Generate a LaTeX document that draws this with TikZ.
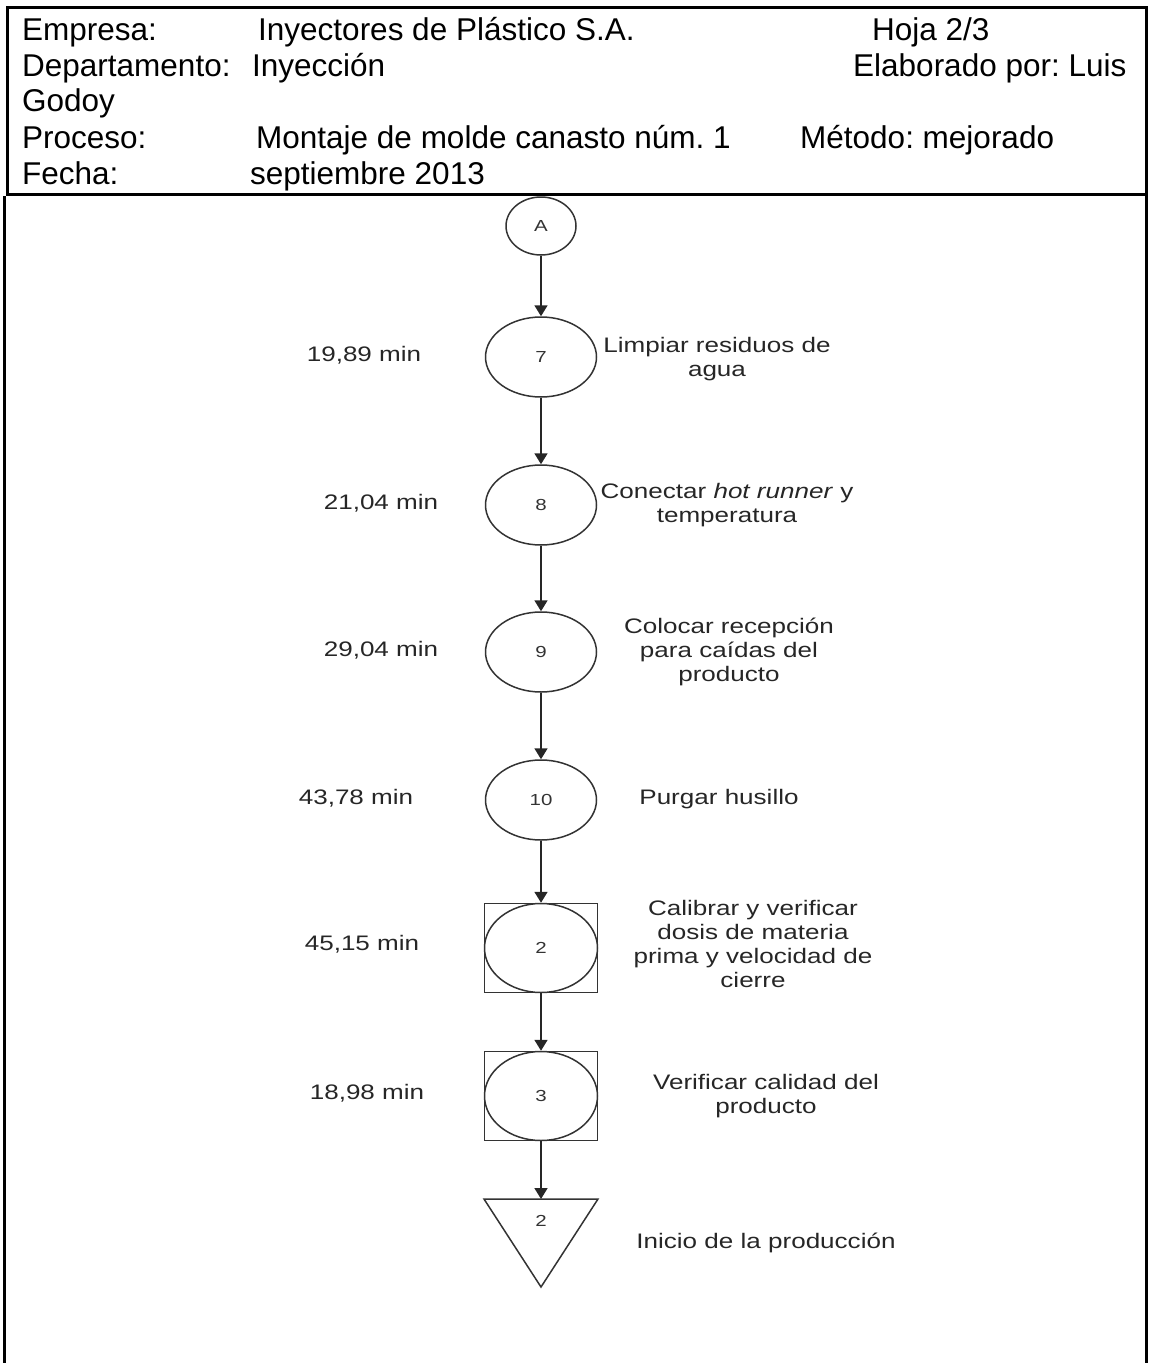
\documentclass[tikz,border=0pt]{standalone}
\usepackage{fontspec}
\setmainfont{Liberation Sans}
\usetikzlibrary{arrows.meta,shapes.geometric}
\newcommand{\dtxt}[1]{\scalebox{1.24}[1]{\fontsize{21}{24}\selectfont\begin{tabular}{@{}c@{}}#1\end{tabular}}}
\newcommand{\ntxt}[1]{\scalebox{1.28}[1]{\fontsize{16}{18}\selectfont #1}}
\frenchspacing
\begin{document}
\begin{tikzpicture}[x=1pt,y=-1pt,
  hdr/.style={anchor=base west,inner sep=0pt,font=\fontsize{31.5}{36}\selectfont},
  oval/.style={draw=black!80,line width=1.5pt,ellipse,inner sep=0pt,minimum width=111pt,minimum height=80pt,text=black!80},
  insp/.style={draw=black!80,line width=1.5pt,rectangle,inner sep=0pt,minimum width=113pt,minimum height=89pt},
  desc/.style={inner sep=0pt,text=black!85},
  flow/.style={draw=black!85,line width=1.8pt,-{Triangle[width=13pt,length=11pt]}},
  frame/.style={draw=black,line width=3pt}
]
\useasboundingbox (0,0) rectangle (1149,1363);
% header
\draw[frame] (7,7) rectangle (1146,194);
\draw[frame] (4.5,196) -- (4.5,1363);
\draw[frame] (1146,196) -- (1146,1363);
\node[hdr] (h1a) at (22,40) {Empresa:};
\node[hdr] (h1b) at (258,40) {Inyectores de Plástico S.A.};
\node[hdr] (h1c) at (872,40) {Hoja 2/3};
\node[hdr] (h2a) at (22,76) {Departamento:};
\node[hdr] (h2b) at (252,76) {Inyección};
\node[hdr] (h2c) at (853,76) {Elaborado por: Luis};
\node[hdr] (h3a) at (22,111) {Godoy};
\node[hdr] (h4a) at (22,148) {Proceso:};
\node[hdr] (h4b) at (256,148) {Montaje de molde canasto núm. 1};
\node[hdr] (h4c) at (800,148) {Método: mejorado};
\node[hdr] (h5a) at (22,184) {Fecha:};
\node[hdr] (h5b) at (250,184) {septiembre 2013};
% flow nodes
\node[oval,minimum width=70pt,minimum height=58pt] (A) at (541,226) {\ntxt{A}};
\node[oval] (o7) at (541,357) {\ntxt{7}};
\node[oval] (o8) at (541,505) {\ntxt{8}};
\node[oval] (o9) at (541,652) {\ntxt{9}};
\node[oval] (o10) at (541,800) {\ntxt{10}};
\node[insp] (s2) at (541,948) {};
\node[oval,minimum width=113pt,minimum height=89pt] (e2) at (541,948) {\ntxt{2}};
\node[insp] (s3) at (541,1096) {};
\node[oval,minimum width=113pt,minimum height=89pt] (e3) at (541,1096) {\ntxt{3}};
\draw[draw=black!80,line width=1.5pt,line join=miter] (484,1199) -- (598,1199) -- (541,1287) -- cycle;
\coordinate (tri) at (541,1199);
\node[desc,text=black!80] (t2) at (541,1221) {\ntxt{2}};
% connectors
\draw[flow] (A.south) -- (o7.north);
\draw[flow] (o7.south) -- (o8.north);
\draw[flow] (o8.south) -- (o9.north);
\draw[flow] (o9.south) -- (o10.north);
\draw[flow] (o10.south) -- (s2.north);
\draw[flow] (s2.south) -- (s3.north);
\draw[flow] (s3.south) -- (tri);
% times
\node[desc] (m7) at (364,357) {\dtxt{19,89 min}};
\node[desc] (m8) at (381,505) {\dtxt{21,04 min}};
\node[desc] (m9) at (381,652) {\dtxt{29,04 min}};
\node[desc] (m10) at (356,800) {\dtxt{43,78 min}};
\node[desc] (m2) at (362,946) {\dtxt{45,15 min}};
\node[desc] (m3) at (367,1095) {\dtxt{18,98 min}};
% descriptions
\node[desc] (d7) at (717,360) {\dtxt{Limpiar residuos de\\agua}};
\node[desc] (d8) at (727,506) {\dtxt{Conectar \textit{hot runner} y\\temperatura}};
\node[desc] (d9) at (729,653) {\dtxt{Colocar recepción\\para caídas del\\producto}};
\node[desc] (d10) at (719,800) {\dtxt{Purgar husillo}};
\node[desc] (d2) at (753,947) {\dtxt{Calibrar y verificar\\dosis de materia\\prima y velocidad de\\cierre}};
\node[desc] (d3) at (766,1097) {\dtxt{Verificar calidad del\\producto}};
\node[desc] (dt) at (766,1244) {\dtxt{Inicio de la producción}};
\end{tikzpicture}
\end{document}
